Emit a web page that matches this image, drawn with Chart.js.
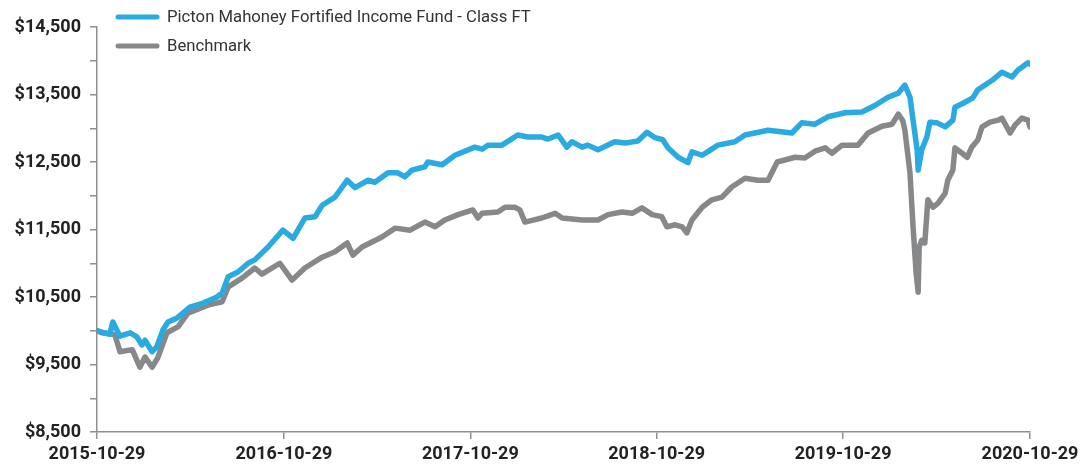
<!DOCTYPE html>
<html>
<head>
<meta charset="utf-8">
<script src="https://cdn.jsdelivr.net/npm/chart.js@4.4.1/dist/chart.umd.min.js"></script>
<style>
  html, body { margin: 0; padding: 0; background: #ffffff; }
  #wrap { width: 1084px; height: 464px; position: relative; }
</style>
</head>
<body>
<div id="wrap"><canvas id="c" width="1084" height="464"></canvas></div>
<script>
const seriesNames = ["Picton Mahoney Fortified Income Fund - Class FT", "Benchmark"];
const xTickDates = ["2015-10-29", "2016-10-29", "2017-10-29", "2018-10-29", "2019-10-29", "2020-10-29"];
const yTickValues = [8500, 9500, 10500, 11500, 12500, 13500, 14500];

const fundDates = ["2015-10-29","2015-11-12","2015-11-23","2015-11-29","2015-12-13","2016-01-02","2016-01-15","2016-01-25","2016-01-31","2016-02-14","2016-02-23","2016-03-06","2016-03-16","2016-04-03","2016-04-28","2016-05-24","2016-06-20","2016-06-30","2016-07-12","2016-07-31","2016-08-20","2016-09-02","2016-09-28","2016-10-27","2016-11-16","2016-12-09","2016-12-29","2017-01-12","2017-02-06","2017-03-02","2017-03-17","2017-04-12","2017-04-25","2017-05-21","2017-06-09","2017-06-23","2017-07-07","2017-08-01","2017-08-07","2017-09-04","2017-09-29","2017-11-07","2017-11-21","2017-12-03","2017-12-30","2018-01-30","2018-02-19","2018-03-18","2018-03-30","2018-04-19","2018-05-06","2018-05-16","2018-06-05","2018-06-16","2018-07-06","2018-08-08","2018-08-28","2018-09-22","2018-10-10","2018-10-26","2018-11-10","2018-11-20","2018-12-10","2018-12-29","2019-01-06","2019-01-26","2019-02-26","2019-03-31","2019-04-20","2019-05-09","2019-06-04","2019-07-21","2019-08-09","2019-09-04","2019-09-29","2019-11-02","2019-12-05","2019-12-31","2020-01-25","2020-02-14","2020-02-27","2020-03-08","2020-03-14","2020-03-22","2020-03-24","2020-03-31","2020-04-10","2020-04-16","2020-04-30","2020-05-16","2020-05-31","2020-06-04","2020-06-20","2020-07-09","2020-07-19","2020-08-16","2020-09-04","2020-09-24","2020-10-05","2020-10-25","2020-10-29"];
const fundValues = [10000,9970,9950,10130,9920,9970,9910,9790,9860,9690,9760,10010,10130,10190,10350,10410,10500,10560,10800,10870,11000,11050,11240,11490,11370,11670,11690,11860,11980,12230,12120,12230,12200,12340,12340,12280,12380,12430,12500,12460,12600,12720,12690,12750,12750,12900,12870,12870,12840,12900,12720,12800,12720,12750,12680,12800,12780,12810,12940,12860,12830,12710,12570,12490,12650,12600,12750,12800,12900,12930,12970,12930,13080,13060,13170,13230,13240,13340,13460,13520,13640,13460,13120,12680,12380,12680,12870,13090,13080,13020,13120,13310,13370,13450,13570,13710,13830,13760,13860,13970,13950];

const benchDates = ["2015-10-29","2015-11-08","2015-12-03","2015-12-13","2016-01-06","2016-01-21","2016-01-31","2016-02-14","2016-02-25","2016-03-14","2016-04-05","2016-04-24","2016-06-02","2016-06-30","2016-07-12","2016-08-08","2016-09-02","2016-09-16","2016-10-21","2016-11-14","2016-12-09","2017-01-12","2017-02-06","2017-03-02","2017-03-13","2017-03-31","2017-05-09","2017-06-04","2017-07-03","2017-08-01","2017-08-21","2017-09-09","2017-10-05","2017-11-03","2017-11-13","2017-11-21","2017-12-22","2018-01-05","2018-01-24","2018-02-03","2018-02-13","2018-03-18","2018-04-13","2018-04-27","2018-06-05","2018-07-06","2018-07-26","2018-08-22","2018-09-11","2018-09-30","2018-10-20","2018-11-08","2018-11-18","2018-12-04","2018-12-18","2018-12-27","2019-01-06","2019-01-26","2019-02-14","2019-03-06","2019-03-25","2019-04-20","2019-05-15","2019-06-04","2019-06-22","2019-07-27","2019-08-15","2019-09-04","2019-09-24","2019-10-07","2019-10-27","2019-11-27","2019-12-17","2020-01-13","2020-02-02","2020-02-14","2020-02-23","2020-02-27","2020-03-08","2020-03-14","2020-03-20","2020-03-24","2020-03-26","2020-03-31","2020-04-06","2020-04-12","2020-04-22","2020-05-02","2020-05-16","2020-05-21","2020-05-31","2020-06-04","2020-06-18","2020-06-28","2020-07-07","2020-07-19","2020-07-27","2020-08-12","2020-08-28","2020-09-04","2020-09-20","2020-09-30","2020-10-13","2020-10-25","2020-10-29"];
const benchValues = [10000,9970,9940,9690,9720,9460,9610,9460,9600,9970,10060,10260,10380,10430,10650,10780,10930,10840,11000,10750,10930,11090,11170,11300,11120,11240,11390,11520,11490,11610,11540,11640,11720,11790,11670,11740,11760,11830,11830,11790,11610,11670,11740,11670,11640,11640,11720,11760,11740,11820,11720,11690,11540,11570,11540,11450,11640,11830,11940,11980,12130,12260,12230,12230,12500,12570,12560,12660,12710,12630,12750,12750,12930,13030,13060,13210,13110,12970,12340,11540,10860,10570,11240,11340,11300,11940,11830,11890,12040,12230,12380,12710,12630,12570,12720,12830,13020,13090,13120,13150,12930,13050,13150,13120,13020];

const seriesColors = ["#29abe2", "#87888a"];

const ORIGIN = Date.UTC(2015, 9, 29);
function dayOf(s) {
  const p = s.split("-").map(Number);
  return Math.round((Date.UTC(p[0], p[1] - 1, p[2]) - ORIGIN) / 864e5);
}
function toPoints(dates, vals) { return dates.map((d, i) => ({ x: dayOf(d), y: vals[i] })); }
const xTickDays = xTickDates.map(dayOf);

const legendPlugin = {
  id: "insetLegend",
  afterDraw(chart) {
    const ctx = chart.ctx;
    ctx.save();
    chart.data.datasets.forEach((ds, i) => {
      const y = 17 + i * 29;
      ctx.strokeStyle = ds.borderColor;
      ctx.lineWidth = 5;
      ctx.lineCap = "round";
      ctx.beginPath();
      ctx.moveTo(118, y);
      ctx.lineTo(157, y);
      ctx.stroke();
      ctx.fillStyle = "#333333";
      ctx.font = "16.7px Roboto";
      ctx.textBaseline = "middle";
      ctx.textAlign = "left";
      ctx.fillText(ds.label, 167, y + 1);
    });
    ctx.restore();
  }
};

new Chart(document.getElementById("c"), {
  type: "line",
  data: {
    datasets: [
      { label: seriesNames[0], data: toPoints(fundDates, fundValues), borderColor: seriesColors[0], backgroundColor: seriesColors[0] },
      { label: seriesNames[1], data: toPoints(benchDates, benchValues), borderColor: seriesColors[1], backgroundColor: seriesColors[1] }
    ]
  },
  options: {
    responsive: false,
    animation: false,
    devicePixelRatio: 1,
    layout: { padding: { top: 27, right: 54, left: 0, bottom: 0 } },
    elements: {
      point: { radius: 0, hoverRadius: 0 },
      line: { borderWidth: 5.5, tension: 0, borderJoinStyle: "round", borderCapStyle: "round" }
    },
    plugins: { legend: { display: false }, tooltip: { enabled: false } },
    scales: {
      x: {
        type: "linear",
        min: xTickDays[0],
        max: xTickDays[xTickDays.length - 1],
        afterBuildTicks(scale) { scale.ticks = xTickDays.map(v => ({ value: v })); },
        afterFit(scale) { scale.height = 32; },
        ticks: {
          autoSkip: false,
          maxRotation: 0,
          padding: 5,
          color: "#222222",
          font: { family: "Roboto", size: 18, weight: "bold" },
          callback(v) { const i = xTickDays.indexOf(v); return i >= 0 ? xTickDates[i] : ""; }
        },
        grid: { drawOnChartArea: false, drawTicks: true, tickLength: 7, color: "#8f8f8f", lineWidth: 1.5 },
        border: { color: "#8f8f8f", width: 1.5 }
      },
      y: {
        min: 8500,
        max: 14500,
        afterFit(scale) { scale.width = 97; },
        ticks: {
          stepSize: 500,
          autoSkip: false,
          padding: 9,
          color: "#222222",
          font: { family: "Roboto", size: 18, weight: "bold" },
          callback(v) { return yTickValues.includes(v) ? "$" + v.toLocaleString("en-US") : ""; }
        },
        grid: { drawOnChartArea: false, drawTicks: true, tickLength: 7, color: "#8f8f8f", lineWidth: 1.5 },
        border: { color: "#8f8f8f", width: 1.5 }
      }
    }
  },
  plugins: [legendPlugin]
});
</script>
</body>
</html>
